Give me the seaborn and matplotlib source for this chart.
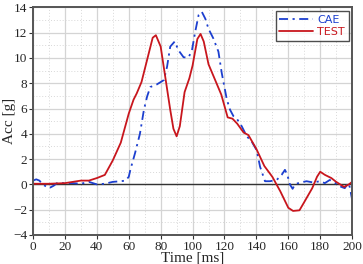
import pandas as pd
import matplotlib.pyplot as plt
import seaborn as sns
from matplotlib.ticker import MultipleLocator

test_t = [0, 10, 20, 25, 30, 35, 40, 45, 50, 55, 60, 63, 65, 68, 72, 75, 77, 80, 83, 86, 88, 90, 92,
          95, 98, 100, 103, 105, 107, 110, 115, 118, 122, 125, 128, 132, 135, 140, 145, 150, 155,
          160, 163, 167, 170, 175, 178, 180, 183, 187, 190, 195, 198, 200]
test_acc = [0.05, 0.05, 0.1, 0.2, 0.3, 0.3, 0.5, 0.75, 1.9, 3.3, 5.6, 6.7, 7.2, 8.1, 10.1, 11.6, 11.8,
            10.9, 8.4, 5.9, 4.4, 3.8, 4.6, 7.3, 8.4, 9.4, 11.5, 11.9, 11.3, 9.5, 8.0, 7.1, 5.3, 5.2,
            4.8, 4.1, 3.9, 2.8, 1.45, 0.6, -0.55, -1.85, -2.1, -2.05, -1.4, -0.3, 0.6, 1.0, 0.75,
            0.5, 0.2, -0.2, 0.0, 0.2]

cae_t = [0, 2, 4, 6, 10, 13, 15, 20, 25, 30, 35, 40, 45, 50, 55, 58, 60, 61, 64, 67, 69.5, 71.5,
         73.5, 77.5, 82, 84, 86, 88.8, 91.2, 94.4, 97.5, 99.6, 101.7, 103.8, 105.8, 108, 110, 113,
         116.2, 118.3, 121.5, 123.5, 125.6, 127.7, 130.8, 134, 137, 140.2, 142.3, 145.4, 148.5,
         152.7, 155.8, 157.9, 159.4, 161, 162.7, 164.2, 167.3, 171.5, 175.6, 179.8, 182.9, 186,
         189, 192.3, 195.4, 197.5, 198.5, 200]
cae_acc = [0.3, 0.4, 0.3, 0.0, -0.3, -0.1, 0.1, 0.1, 0.1, 0.05, 0.2, 0.0, 0.05, 0.2, 0.25, 0.3,
           0.6, 1.15, 2.5, 4.0, 5.9, 6.95, 7.7, 7.9, 8.25, 9.3, 10.9, 11.3, 10.6, 10.05, 10.05, 10.6,
           12.1, 13.4, 13.65, 13.1, 12.3, 11.55, 10.5, 8.8, 6.7, 5.9, 5.4, 5.2, 4.6, 3.8, 3.4, 2.7,
           1.4, 0.25, 0.25, 0.35, 0.75, 1.15, 0.75, 0.0, -0.35, 0.0, 0.15, 0.25, 0.15, 0.25, 0.1,
           0.35, 0.15, -0.15, -0.3, 0.1, -0.2, -1.2]

blue = '#1c3fcf'
red = '#c8161d'

sns.set_style('white')
plt.rcParams['font.family'] = ['Liberation Serif', 'DejaVu Serif']

fig = plt.figure(figsize=(3.63, 2.64), dpi=100)
ax = fig.add_axes([0.091, 0.11, 0.879, 0.862])

ax.xaxis.set_major_locator(MultipleLocator(20))
ax.xaxis.set_minor_locator(MultipleLocator(10))
ax.yaxis.set_major_locator(MultipleLocator(2))
ax.yaxis.set_minor_locator(MultipleLocator(1))
ax.grid(which='major', color='#d4d4d4', lw=0.9, ls='-')
ax.grid(which='minor', color='#d8d8d8', lw=0.7, ls=(0, (1, 2)))
ax.set_axisbelow(True)
ax.axhline(0, color='#333333', lw=1.0, zorder=1.5)

cae = pd.DataFrame({'t': cae_t, 'acc': cae_acc})
test = pd.DataFrame({'t': test_t, 'acc': test_acc})
sns.lineplot(data=cae, x='t', y='acc', ax=ax, color=blue, lw=1.3, sort=False,
             label='CAE').lines[-1].set_dashes((5, 2.5, 1.2, 2.5))
sns.lineplot(data=test, x='t', y='acc', ax=ax, color=red, lw=1.3, sort=False, label='TEST')

ax.set_xlim(0, 200)
ax.set_ylim(-4, 14)
ax.set_xlabel('Time [ms]', fontsize=11, labelpad=-1)
ax.set_ylabel('Acc [g]', fontsize=11)
ax.yaxis.set_label_coords(-0.052, 0.5)
ax.tick_params(which='major', labelsize=9.5, length=3, width=0.8, color='#333333', pad=1,
               direction='out', left=True, bottom=True)
for s in ax.spines.values():
    s.set_color('#555555')
    s.set_linewidth(1.4)

leg = ax.legend(loc='upper right', frameon=True, fancybox=False, handlelength=3.0,
                borderpad=0.35, labelspacing=0.2, handletextpad=0.4, borderaxespad=0.3,
                prop={'family': 'DejaVu Sans', 'size': 8})
leg.get_frame().set_edgecolor('#222222')
leg.get_frame().set_linewidth(1.0)
for txt, c in zip(leg.get_texts(), [blue, red]):
    txt.set_color(c)

fig.savefig('out.png', dpi=100)
